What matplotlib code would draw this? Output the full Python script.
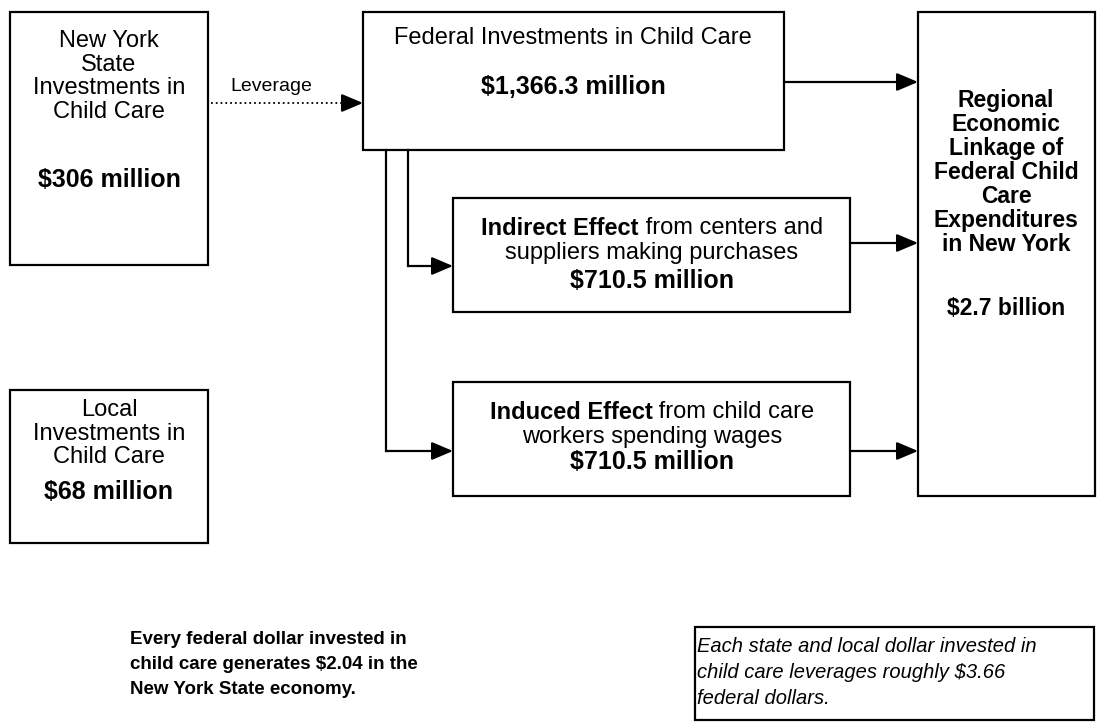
import matplotlib
matplotlib.use("Agg")
import matplotlib.pyplot as plt
from matplotlib.patches import Rectangle

plt.rcParams['font.family'] = ['Liberation Sans', 'DejaVu Sans']

# values shown in the diagram (millions of dollars unless noted)
state_invest = 306
local_invest = 68
federal_invest = 1366.3
indirect_effect = 710.5
induced_effect = 710.5
regional_total = 2.7          # billions
federal_multiplier = 2.04
leverage_ratio = 3.66

state_lines = ['New York', 'State', 'Investments in', 'Child Care']
local_lines = ['Local', 'Investments in', 'Child Care']
regional_lines = ['Regional', 'Economic', 'Linkage of', 'Federal Child',
                  'Care', 'Expenditures', 'in New York']


def money(v):
    return '${:,} million'.format(v)


fig = plt.figure(figsize=(11.04, 7.25), dpi=100)
ax = fig.add_axes([0, 0, 1, 1])
ax.set_xlim(0, 1104)
ax.set_ylim(725, 0)
ax.axis('off')

LW = 1.6
REG = 17
BOLD = 18


def box(x0, y0, x1, y1):
    ax.add_patch(Rectangle((x0, y0), x1 - x0, y1 - y0, fill=False,
                           lw=LW, ec='black'))


def head(x_from, x_to, y):
    ax.annotate('', xy=(x_to, y), xytext=(x_from, y),
                arrowprops=dict(arrowstyle='-|>,head_length=1.3,head_width=0.55',
                                lw=LW, color='black',
                                shrinkA=0, shrinkB=0, mutation_scale=10))


def mixed(cx, y, bold_part, rest):
    # one line with a bold lead-in, centred as a whole
    r = fig.canvas.get_renderer()
    t1 = ax.text(0, y, bold_part, fontsize=REG, weight='bold', va='center')
    t2 = ax.text(0, y, rest, fontsize=REG, va='center')
    w1 = t1.get_window_extent(r).width
    w2 = t2.get_window_extent(r).width
    x0 = cx - (w1 + w2) / 2
    t1.set_x(x0)
    t2.set_x(x0 + w1)


# boxes
box(10, 12, 208, 265)
box(10, 390, 208, 543)
box(363, 12, 784, 150)
box(453, 198, 850, 312)
box(453, 382, 850, 496)
box(918, 12, 1095, 496)
box(695, 627, 1094, 720)

# state box
for i, s in enumerate(state_lines):
    ax.text(109, 41 + i * 23.7, s, fontsize=REG, ha='center', va='center')
ax.text(109, 180, money(state_invest), fontsize=BOLD, weight='bold',
        ha='center', va='center')

# local box
for i, s in enumerate(local_lines):
    ax.text(109, 410 + i * 23.7, s, fontsize=REG, ha='center', va='center')
ax.text(109, 492, money(local_invest), fontsize=BOLD, weight='bold',
        ha='center', va='center')

# federal box
ax.text(573, 38, 'Federal Investments in Child Care', fontsize=REG,
        ha='center', va='center')
ax.text(573, 87, money(federal_invest), fontsize=BOLD, weight='bold',
        ha='center', va='center')

# indirect box
mixed(652, 228, 'Indirect Effect', ' from centers and')
ax.text(652, 253, 'suppliers making purchases', fontsize=REG,
        ha='center', va='center')
ax.text(652, 281, money(indirect_effect), fontsize=BOLD, weight='bold',
        ha='center', va='center')

# induced box
mixed(652, 412, 'Induced Effect', ' from child care')
ax.text(652, 437, 'workers spending wages', fontsize=REG,
        ha='center', va='center')
ax.text(652, 462, money(induced_effect), fontsize=BOLD, weight='bold',
        ha='center', va='center')

# regional box
for i, s in enumerate(regional_lines):
    ax.text(1006, 100 + i * 24, s, fontsize=16.5, weight='bold',
            ha='center', va='center')
ax.text(1006, 308, '${} billion'.format(regional_total), fontsize=16.5,
        weight='bold', ha='center', va='center')

# leverage arrow
ax.plot([211, 350], [103, 103], color='black', lw=1.3, ls=':')
head(345, 363, 103)
ax.text(271, 86, 'Leverage', fontsize=14, ha='center', va='center')

# flows to the regional box
head(784, 918, 82)
head(850, 918, 243)
head(850, 918, 451)

# federal -> indirect / induced elbows
ax.plot([408, 408], [150, 266], color='black', lw=LW)
head(408, 453, 266)
ax.plot([386, 386], [150, 451], color='black', lw=LW)
head(386, 453, 451)

# notes
notes_left = ['Every federal dollar invested in',
              'child care generates ${} in the'.format(federal_multiplier),
              'New York State economy.']
for i, s in enumerate(notes_left):
    ax.text(130, 640 + i * 24.5, s, fontsize=13.5, weight='bold',
            ha='left', va='center')

notes_right = ['Each state and local dollar invested in',
               'child care leverages roughly ${}'.format(leverage_ratio),
               'federal dollars.']
for i, s in enumerate(notes_right):
    ax.text(697, 646 + i * 26, s, fontsize=14.5, style='italic',
            ha='left', va='center')

fig.savefig('out.png', dpi=100)
